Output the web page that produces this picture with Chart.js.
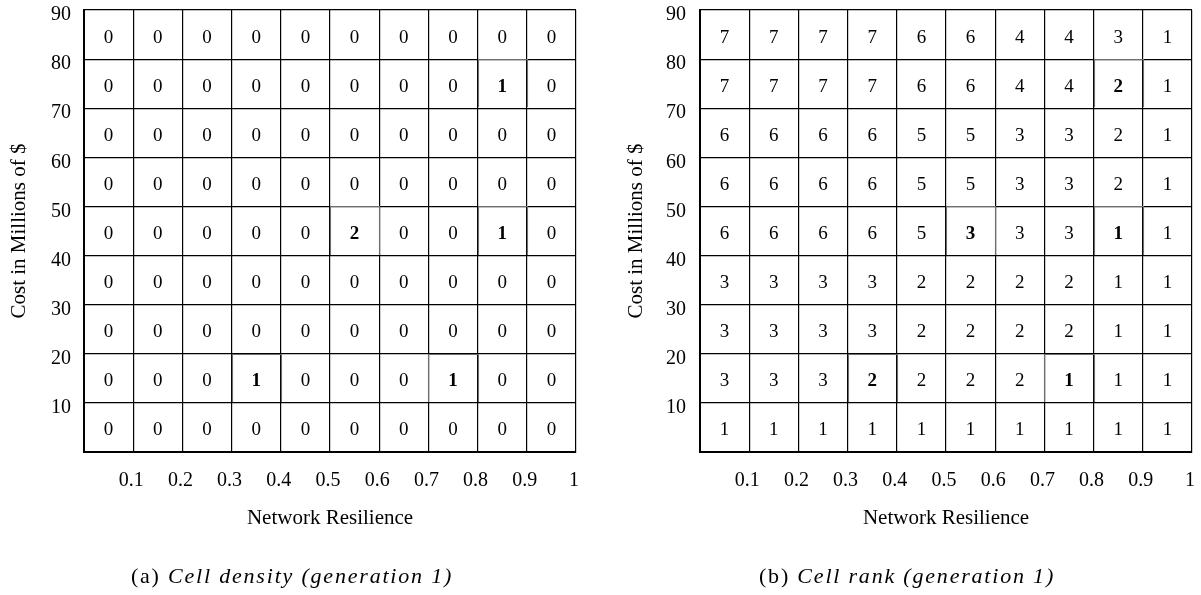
<!DOCTYPE html>
<html>
<head>
<meta charset="utf-8">
<script src="https://cdn.jsdelivr.net/npm/chart.js@4/dist/chart.umd.min.js"></script>
<style>
  html, body { margin: 0; padding: 0; background: #fff; }
  #wrap { position: relative; width: 1201px; height: 595px; overflow: hidden; }
  canvas { position: absolute; top: 0; }
  #cvDensity { left: 0; }
  #cvRank { left: 600px; }
</style>
</head>
<body>
<div id="wrap">
  <canvas id="cvDensity" width="600" height="595"></canvas>
  <canvas id="cvRank" width="601" height="595"></canvas>
</div>
<script>
// Bin edges along each axis and the labels printed at them
const resilienceTicks = [0, 0.1, 0.2, 0.3, 0.4, 0.5, 0.6, 0.7, 0.8, 0.9, 1];
const resilienceLabels = ['', '0.1', '0.2', '0.3', '0.4', '0.5', '0.6', '0.7', '0.8', '0.9', '1'];
const costTicks = [0, 10, 20, 30, 40, 50, 60, 70, 80, 90];
const costLabels = ['', '10', '20', '30', '40', '50', '60', '70', '80', '90'];

// Rows run from the highest cost band (80-90) down to the lowest (0-10)
const densityRows = [
  [0, 0, 0, 0, 0, 0, 0, 0, 0, 0],
  [0, 0, 0, 0, 0, 0, 0, 0, 1, 0],
  [0, 0, 0, 0, 0, 0, 0, 0, 0, 0],
  [0, 0, 0, 0, 0, 0, 0, 0, 0, 0],
  [0, 0, 0, 0, 0, 2, 0, 0, 1, 0],
  [0, 0, 0, 0, 0, 0, 0, 0, 0, 0],
  [0, 0, 0, 0, 0, 0, 0, 0, 0, 0],
  [0, 0, 0, 1, 0, 0, 0, 1, 0, 0],
  [0, 0, 0, 0, 0, 0, 0, 0, 0, 0]
];
const rankRows = [
  [7, 7, 7, 7, 6, 6, 4, 4, 3, 1],
  [7, 7, 7, 7, 6, 6, 4, 4, 2, 1],
  [6, 6, 6, 6, 5, 5, 3, 3, 2, 1],
  [6, 6, 6, 6, 5, 5, 3, 3, 2, 1],
  [6, 6, 6, 6, 5, 3, 3, 3, 1, 1],
  [3, 3, 3, 3, 2, 2, 2, 2, 1, 1],
  [3, 3, 3, 3, 2, 2, 2, 2, 1, 1],
  [3, 3, 3, 2, 2, 2, 2, 1, 1, 1],
  [1, 1, 1, 1, 1, 1, 1, 1, 1, 1]
];

const SERIF = '"Liberation Serif", "Times New Roman", serif';
Chart.defaults.color = '#000';
Chart.defaults.font.family = SERIF;

// One point per cell, placed at the cell centre; occupied cells are emphasised
function buildCells(rows) {
  const cells = [];
  const nRows = rows.length;
  rows.forEach((row, r) => {
    const yi = nRows - 1 - r;
    row.forEach((v, c) => {
      const x0 = resilienceTicks[c], x1 = resilienceTicks[c + 1];
      const y0 = costTicks[yi], y1 = costTicks[yi + 1];
      cells.push({
        x: (x0 + x1) / 2, y: (y0 + y1) / 2,
        x0, x1, y0, y1, v,
        occupied: densityRows[r][c] > 0
      });
    });
  });
  return cells;
}

// Writes each cell value and frames the occupied cells
const cellTextPlugin = {
  id: 'cellText',
  afterDatasetsDraw(chart) {
    const { ctx, scales: { x, y } } = chart;
    const ds = chart.data.datasets[0];
    const meta = chart.getDatasetMeta(0);
    ctx.save();
    ds.data.forEach((d, i) => {
      const el = meta.data[i];
      if (d.occupied) {
        const l = x.getPixelForValue(d.x0), r = x.getPixelForValue(d.x1);
        const t = y.getPixelForValue(d.y1), b = y.getPixelForValue(d.y0);
        ctx.strokeStyle = '#6e6e6e';
        ctx.lineWidth = 1.1;
        ctx.beginPath();
        ctx.moveTo(Math.round(l) + 0.5, Math.round(b) - 1);
        ctx.lineTo(Math.round(l) + 0.5, Math.round(t) + 0.5);
        ctx.lineTo(Math.round(r) + 0.5, Math.round(t) + 0.5);
        ctx.lineTo(Math.round(r) + 0.5, Math.round(b) - 1);
        ctx.stroke();
      }
      ctx.fillStyle = '#000';
      ctx.textAlign = 'center';
      ctx.textBaseline = 'middle';
      ctx.font = (d.occupied ? 'bold ' : '') + '19px ' + SERIF;
      ctx.fillText(String(d.v), el.x, el.y + 3);
    });
    ctx.restore();
  }
};

// Sub-figure caption under each panel: upright tag, italic description
const captionPlugin = {
  id: 'caption',
  afterDraw(chart, args, opts) {
    if (!opts || !opts.text) return;
    const ctx = chart.ctx;
    ctx.save();
    ctx.fillStyle = '#000';
    ctx.textBaseline = 'middle';
    ctx.textAlign = 'left';
    if ('letterSpacing' in ctx) ctx.letterSpacing = opts.spacing + 'px';
    const size = opts.size;
    const tagFont = size + 'px ' + SERIF;
    const textFont = 'italic ' + size + 'px ' + SERIF;
    ctx.font = tagFont;
    const tagW = ctx.measureText(opts.tag + ' ').width;
    ctx.font = textFont;
    const textW = ctx.measureText(opts.text).width;
    const x = opts.cx - (tagW + textW) / 2;
    ctx.font = tagFont;
    ctx.fillText(opts.tag + ' ', x, opts.cy);
    ctx.font = textFont;
    ctx.fillText(opts.text, x + tagW, opts.cy);
    ctx.restore();
  }
};

function makeChart(canvasId, rows, layout) {
  return new Chart(document.getElementById(canvasId), {
    type: 'scatter',
    data: {
      datasets: [{
        data: buildCells(rows),
        pointRadius: 0,
        pointHoverRadius: 0
      }]
    },
    options: {
      responsive: false,
      animation: false,
      events: [],
      layout: { padding: { top: 10, left: 0, right: layout.padRight, bottom: 0 } },
      plugins: {
        legend: { display: false },
        tooltip: { enabled: false },
        caption: layout.caption
      },
      scales: {
        x: {
          type: 'linear',
          min: 0, max: 1,
          afterBuildTicks: s => { s.ticks = resilienceTicks.map(v => ({ value: v })); },
          afterFit: s => { s.height = 143; s.paddingLeft = 0; s.paddingRight = 0; },
          grid: { color: '#000', lineWidth: 1.2, drawTicks: false },
          border: { color: '#000', width: 2 },
          ticks: {
            padding: 17, labelOffset: -2, maxRotation: 0, autoSkip: false,
            font: { size: 20 }, color: '#000',
            callback: (v, i) => resilienceLabels[i]
          },
          title: {
            display: true, text: 'Network Resilience', color: '#000',
            font: { size: 21 }, padding: { top: 0, bottom: 64 }
          }
        },
        y: {
          type: 'linear',
          min: 0, max: 90,
          afterBuildTicks: s => { s.ticks = costTicks.map(v => ({ value: v })); },
          afterFit: s => { s.width = layout.yWidth; s.paddingTop = 0; s.paddingBottom = 0; },
          grid: { color: '#000', lineWidth: 1.2, drawTicks: false },
          border: { color: '#000', width: 2 },
          ticks: {
            padding: layout.yTickPad, labelOffset: 5, autoSkip: false,
            font: { size: 20 }, color: '#000',
            callback: (v, i) => costLabels[i]
          },
          title: {
            display: true, text: 'Cost in Millions of $', color: '#000',
            font: { size: 21 }, padding: { top: layout.yTitlePad, bottom: 0 }
          }
        }
      }
    },
    plugins: [cellTextPlugin, captionPlugin]
  });
}

makeChart('cvDensity', densityRows, {
  padRight: 24, yWidth: 84, yTickPad: 13, yTitlePad: 7,
  caption: { tag: '(a)', text: 'Cell density (generation 1)', cx: 292, cy: 577, size: 22, spacing: 1.8 }
});
makeChart('cvRank', rankRows, {
  padRight: 9, yWidth: 100, yTickPad: 14, yTitlePad: 24,
  caption: { tag: '(b)', text: 'Cell rank (generation 1)', cx: 907 - 600, cy: 577, size: 22, spacing: 1.8 }
});
</script>
</body>
</html>
